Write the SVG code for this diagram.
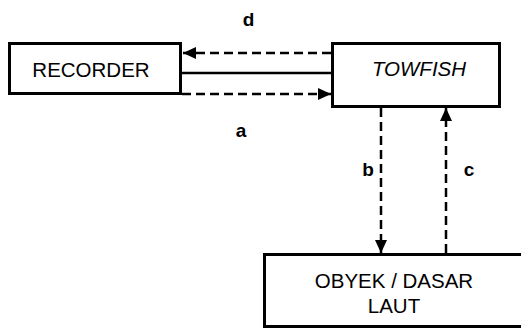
<svg xmlns="http://www.w3.org/2000/svg" width="521" height="329" viewBox="0 0 521 329">
<style>
.box{fill:#fff;stroke:#000;stroke-width:3}
.t{font-family:"Liberation Sans",Arial,sans-serif;font-size:20.5px;fill:#000;text-anchor:middle}
.lbl{font-family:"Liberation Sans",Arial,sans-serif;font-size:19px;font-weight:bold;fill:#000;text-anchor:middle}
.dash{fill:none;stroke:#000;stroke-width:2.5;stroke-dasharray:9 5}
.solid{fill:none;stroke:#000;stroke-width:2.5}
</style>
<defs>
<marker id="ah" markerUnits="userSpaceOnUse" markerWidth="14" markerHeight="12" refX="13" refY="6" orient="auto">
<path d="M0,0 L13,6 L0,12 Z" fill="#000"/>
</marker>
</defs>
<g id="recorder"><rect class="box" x="9.5" y="43.5" width="171" height="50"/><text class="t" x="91" y="76.5">RECORDER</text></g>
<g id="towfish"><rect class="box" x="332.5" y="43.5" width="167" height="63"/><text class="t" x="419" y="75.5" font-style="italic">TOWFISH</text></g>
<g id="obyek"><rect class="box" x="264.5" y="254.5" width="262" height="72"/><text class="t" x="394" y="287.5">OBYEK / DASAR</text><text class="t" x="394" y="313">LAUT</text></g>
<g id="connectors">
<line class="dash" x1="331" y1="53" x2="183" y2="53" marker-end="url(#ah)"/>
<line class="solid" x1="181" y1="73" x2="332" y2="73"/>
<line class="dash" x1="182" y1="94" x2="331" y2="94" marker-end="url(#ah)"/>
<line class="dash" x1="381" y1="108" x2="381" y2="253" marker-end="url(#ah)"/>
<line class="dash" x1="446" y1="253" x2="446" y2="108" marker-end="url(#ah)"/>
<text class="lbl" x="248.5" y="25.5">d</text>
<text class="lbl" x="241" y="137">a</text>
<text class="lbl" x="368" y="176">b</text>
<text class="lbl" x="469" y="176">c</text>
</g>
</svg>
